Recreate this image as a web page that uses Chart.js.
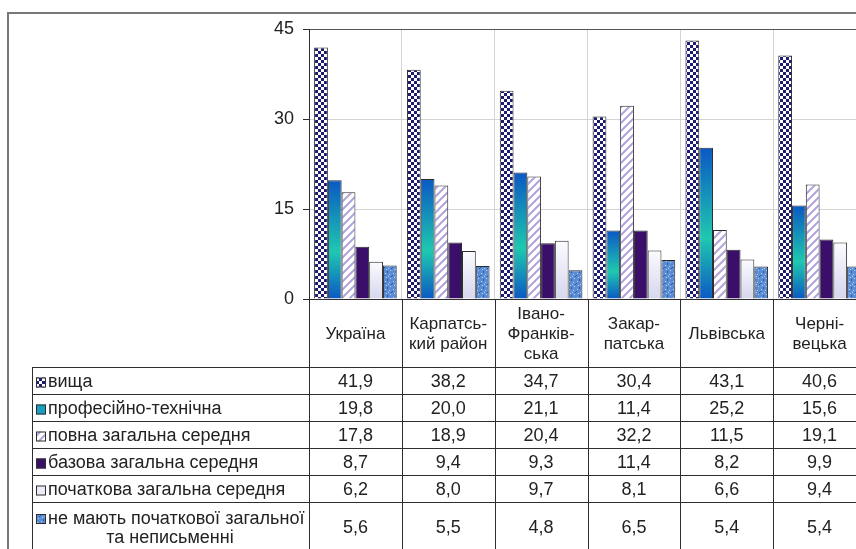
<!DOCTYPE html>
<html>
<head>
<meta charset="utf-8">
<script src="https://cdn.jsdelivr.net/npm/chart.js@4.4.0/dist/chart.umd.min.js"></script>
<style>
    html, body { margin: 0; padding: 0; background: #fff; overflow: hidden; }
    #wrap { width: 880px; height: 549px; }
</style>
</head>
<body>
<div id="wrap"><canvas id="myChart" width="880" height="549"></canvas></div>
<script>
// дані
const regions = [['Україна'], ['Карпатсь-', 'кий район'], ['Івано-', 'Франків-', 'ська'], ['Закар-', 'патська'], ['Львівська'], ['Черні-', 'вецька']];
const seriesNames = ['вища', 'професійно-технічна', 'повна загальна середня', 'базова загальна середня', 'початкова загальна середня', ['не мають початкової загальної', 'та неписьменні']];
const vyshcha = [41.9, 38.2, 34.7, 30.4, 43.1, 40.6];
const profTekh = [19.8, 20.0, 21.1, 11.4, 25.2, 15.6];
const povna = [17.8, 18.9, 20.4, 32.2, 11.5, 19.1];
const bazova = [8.7, 9.4, 9.3, 11.4, 8.2, 9.9];
const pochatkova = [6.2, 8.0, 9.7, 8.1, 6.6, 9.4];
const neMayut = [5.6, 5.5, 4.8, 6.5, 5.4, 5.4];
const yMax = 45;
const yStep = 15;

const ctx = document.getElementById('myChart').getContext('2d');

// візерунки для стовпців
function makePattern(size, draw) {
    const c = document.createElement('canvas');
    c.width = size; c.height = size;
    draw(c.getContext('2d'));
    return ctx.createPattern(c, 'repeat');
}
const checker = makePattern(6, g => {
    g.fillStyle = '#1d1c72'; g.fillRect(0, 0, 6, 6);
    g.fillStyle = '#ffffff'; g.fillRect(0, 0, 3, 3); g.fillRect(3, 3, 3, 3);
});
const stripes = makePattern(8, g => {
    g.fillStyle = '#ffffff'; g.fillRect(0, 0, 8, 8);
    g.strokeStyle = '#b3a3dc'; g.lineWidth = 2;
    g.beginPath();
    g.moveTo(-2, 10); g.lineTo(10, -2);
    g.moveTo(-2, 2); g.lineTo(2, -2);
    g.moveTo(6, 10); g.lineTo(10, 6);
    g.stroke();
});
const speckle = makePattern(8, g => {
    g.fillStyle = '#5b8dd4'; g.fillRect(0, 0, 8, 8);
    g.fillStyle = '#b4d0f2';
    [[1, 1], [5, 2], [2, 5], [6, 6], [4, 4]].forEach(p => g.fillRect(p[0], p[1], 1, 1));
    g.fillStyle = '#2c5aa8';
    [[3, 0], [0, 3], [7, 4], [3, 7]].forEach(p => g.fillRect(p[0], p[1], 1, 1));
});

// градієнт по висоті стовпця
function barGradient(stops, fallback) {
    return function (c) {
        const chart = c.chart;
        if (!chart.chartArea || c.raw === undefined) return fallback;
        const y = chart.scales.y;
        const top = y.getPixelForValue(c.raw);
        const bottom = y.getPixelForValue(0);
        const g = chart.ctx.createLinearGradient(0, top, 0, bottom);
        stops.forEach(s => g.addColorStop(s[0], s[1]));
        return g;
    };
}
const tealFill = barGradient([[0, '#0b58c4'], [0.6, '#1fc8b0'], [1, '#0b58c4']], '#1a9fc0');
const lightFill = barGradient([[0, '#fbfbff'], [1, '#d6d6ee']], '#ececf8');

const fills = [checker, tealFill, stripes, '#3a0f6a', lightFill, speckle];
const allData = [vyshcha, profTekh, povna, bazova, pochatkova, neMayut];

const textColor = '#222';
const lineColor = '#2e2e2e';
const fontFamily = '"Liberation Sans", Arial, sans-serif';
const rowTops = [367, 394, 421, 448, 475, 502, 560];

// таблиця даних під графіком
const tablePlugin = {
    id: 'dataTable',
    beforeDraw(chart) {
        const g = chart.ctx;
        g.save();
        g.strokeStyle = '#777';
        g.lineWidth = 2;
        g.beginPath();
        g.moveTo(8, 560); g.lineTo(8, 13); g.lineTo(880, 13);
        g.stroke();
        g.restore();
    },
    afterDraw(chart) {
        const g = chart.ctx;
        const x = chart.scales.x;
        const area = chart.chartArea;
        const n = regions.length;
        const colW = (area.right - area.left) / n;
        g.save();
        g.strokeStyle = lineColor;
        g.lineWidth = 1;
        g.beginPath();
        for (let i = 0; i <= n; i++) {
            const px = Math.round(area.left + i * colW) + 0.5;
            g.moveTo(px, area.bottom); g.lineTo(px, 560);
        }
        g.moveTo(32.5, rowTops[0]); g.lineTo(32.5, 560);
        for (let r = 0; r < rowTops.length - 1; r++) {
            g.moveTo(32, rowTops[r] + 0.5); g.lineTo(880, rowTops[r] + 0.5);
        }
        g.stroke();

        // підписи областей
        g.fillStyle = textColor;
        g.textAlign = 'center';
        g.textBaseline = 'middle';
        g.font = '17px ' + fontFamily;
        regions.forEach((lines, i) => {
            const cx = x.getPixelForValue(i);
            const cy = (area.bottom + rowTops[0]) / 2 + 1;
            lines.forEach((t, k) => {
                g.fillText(t, cx, cy + (k - (lines.length - 1) / 2) * 20);
            });
        });

        // рядки серій
        g.font = '18px ' + fontFamily;
        allData.forEach((vals, s) => {
            const top = rowTops[s];
            const bottom = s === allData.length - 1 ? 551 : rowTops[s + 1];
            const cy = (top + bottom) / 2 + 2;
            const name = seriesNames[s];
            const nameLines = Array.isArray(name) ? name : [name];
            const firstY = cy - (nameLines.length - 1) * 9.5;
            // ключ легенди
            g.fillStyle = typeof fills[s] === 'function' ? fills[s]({ chart: chart }) : fills[s];
            g.fillRect(36, firstY - 5, 10, 10);
            g.strokeStyle = lineColor;
            g.strokeRect(36.5, firstY - 4.5, 9, 9);
            g.fillStyle = textColor;
            g.textAlign = 'left';
            g.fillText(nameLines[0], 48, firstY);
            if (nameLines.length > 1) {
                g.textAlign = 'center';
                g.fillText(nameLines[1], 170, firstY + 19);
            }
            g.textAlign = 'center';
            vals.forEach((v, i) => {
                g.fillText(v.toFixed(1).replace('.', ','), x.getPixelForValue(i), cy);
            });
        });
        g.restore();
    }
};

const chart = new Chart(ctx, {
    type: 'bar',
    data: {
        labels: regions,
        datasets: allData.map((vals, s) => ({
            label: Array.isArray(seriesNames[s]) ? seriesNames[s].join(' ') : seriesNames[s],
            data: vals,
            backgroundColor: fills[s],
            borderColor: '#2a2a2a',
            borderWidth: 1,
            barPercentage: 1.0,
            categoryPercentage: 0.89
        }))
    },
    options: {
        responsive: false,
        animation: false,
        layout: { padding: { top: 29, right: 14, left: 0, bottom: 0 } },
        plugins: {
            legend: { display: false },
            tooltip: { enabled: false }
        },
        scales: {
            x: {
                ticks: { display: false },
                grid: { color: '#d4d4d4', drawTicks: false, offset: true },
                border: { color: lineColor },
                afterFit: scale => { scale.height = 250; }
            },
            y: {
                min: 0,
                max: yMax,
                ticks: {
                    stepSize: yStep,
                    color: textColor,
                    padding: 9,
                    font: { family: fontFamily, size: 18 }
                },
                grid: {
                    color: c => (c.tick && c.tick.value === yMax ? '#555' : '#d4d4d4'),
                    tickColor: lineColor,
                    tickLength: 6
                },
                border: { color: lineColor },
                afterFit: scale => { scale.width = 309; }
            }
        }
    },
    plugins: [tablePlugin]
});
</script>
</body>
</html>
